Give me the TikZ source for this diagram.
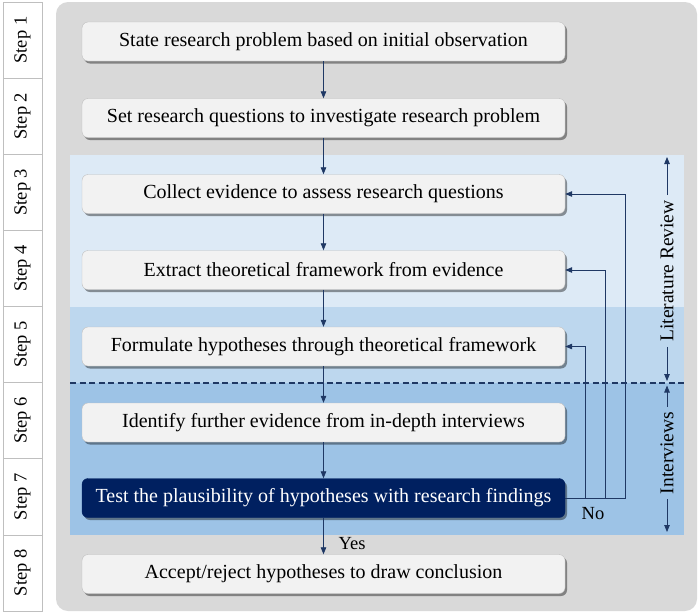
\documentclass[tikz,border=0pt]{standalone}
\usepackage{fontspec}
\setmainfont{Liberation Serif}
\usetikzlibrary{arrows.meta,shadows,calc}
\definecolor{bggrey}{HTML}{D9D9D9}
\definecolor{blueA}{HTML}{DDEAF6}
\definecolor{blueB}{HTML}{BDD7EE}
\definecolor{blueC}{HTML}{9DC3E6}
\definecolor{navyline}{HTML}{1F3864}
\definecolor{navybox}{HTML}{002060}
\definecolor{boxfill}{HTML}{F2F2F2}
\definecolor{boxline}{HTML}{BFBFBF}
\begin{document}
\begin{tikzpicture}[x=1pt,y=-1pt,
  stepbox/.style={draw=boxline, fill=white, rotate=90, minimum width=76.1pt, minimum height=39pt, inner sep=0pt, font=\fontsize{18.5}{20}\selectfont},
  mainbox/.style={draw=boxline, fill=boxfill, rounded corners=6pt, minimum width=483pt, minimum height=39pt, inner sep=0pt, font=\fontsize{20}{22}\selectfont,
    drop shadow={shadow xshift=2pt, shadow yshift=-2.5pt, fill=black, opacity=.4}},
  darkbox/.style={mainbox, draw=navybox, fill=navybox, text=white},
  arr/.style={draw=navyline, line width=0.8pt, -{Triangle[length=7pt,width=5.5pt]}},
  sidelabel/.style={rotate=90, font=\fontsize{19.5}{22}\selectfont, inner sep=5pt},
  lbl/.style={font=\fontsize{18.5}{20}\selectfont, inner sep=0pt}
]
\useasboundingbox (0,0) rectangle (700,614);
% step column
\foreach \i in {1,...,8}{
  \node[stepbox] (s\i) at (22.5,{2+76.1*(\i-0.5)}) {Step \i};
}
% background panels
\fill[bggrey, rounded corners=12pt] (56,2) rectangle (697,611);
\fill[blueA] (70,155) rectangle (684,307);
\fill[blueB] (70,307) rectangle (684,383);
\fill[blueC] (70,383) rectangle (684,535);
\draw[navyline, line width=1.2pt, dash pattern=on 6pt off 3.5pt] (70,383) -- (684,383);
% boxes
\node[mainbox] (b1) at (323.5,41.5) {State research problem based on initial observation};
\node[mainbox] (b2) at (323.5,118) {Set research questions to investigate research problem};
\node[mainbox] (b3) at (323.5,194) {Collect evidence to assess research questions};
\node[mainbox] (b4) at (323.5,270) {Extract theoretical framework from evidence};
\node[mainbox] (b5) at (323.5,346.5) {Formulate hypotheses through theoretical framework};
\node[mainbox] (b6) at (323.5,422.5) {Identify further evidence from in-depth interviews};
\node[darkbox] (b7) at (323.5,498) {Test the plausibility of hypotheses with research findings};
\node[mainbox] (b8) at (323.5,574) {Accept/reject hypotheses to draw conclusion};
% downward arrows
\foreach \a/\b in {1/2,2/3,3/4,4/5,5/6,6/7,7/8}{
  \draw[arr] (b\a.south) -- (b\b.north);
}
% feedback arrows
\draw[arr] (b7.east) -- ++(60,0) |- (b3.east);
\draw[arr] (b7.east) -- ++(40,0) |- (b4.east);
\draw[arr] (b7.east) -- ++(20,0) |- (b5.east);
\node[lbl] (no) at (593,514) {No};
\node[lbl] (yes) at (352,544) {Yes};
% side labels
\node[sidelabel] (lr) at (667,271) {Literature Review};
\coordinate (lrtop) at (667,157);
\coordinate (lrbot) at (667,381);
\draw[arr] (lr.east) -- (lrtop);
\draw[arr] (lr.west) -- (lrbot);
\node[sidelabel] (iv) at (667,453) {Interviews};
\coordinate (ivtop) at (667,385.5);
\coordinate (ivbot) at (667,532);
\draw[arr] (iv.east) -- (ivtop);
\draw[arr] (iv.west) -- (ivbot);
\end{tikzpicture}
\end{document}
